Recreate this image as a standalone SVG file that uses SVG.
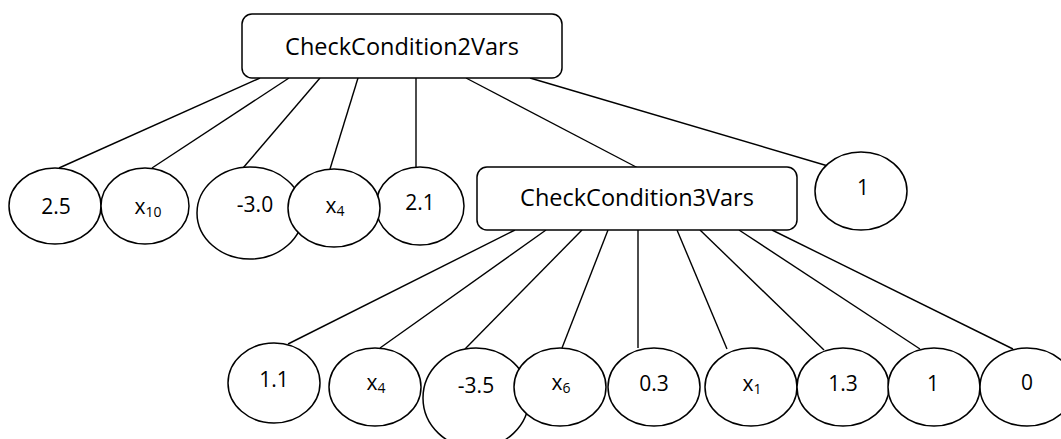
<svg xmlns="http://www.w3.org/2000/svg" width="1061" height="439" viewBox="0 0 1061 439">
  <style>
    .box { fill: #ffffff; stroke: #000000; stroke-width: 1.5; }
    .leaf { fill: #ffffff; stroke: #000000; stroke-width: 1.5; }
    .edge { stroke: #000000; stroke-width: 1.4; fill: none; }
    .title { font-family: "Open Sans", "Noto Sans", sans-serif; font-size: 23.5px; fill: #000000; text-anchor: middle; }
    .val { font-family: "Open Sans", "Noto Sans", sans-serif; font-size: 21px; fill: #000000; text-anchor: middle; }
    .sub { font-size: 14px; }
  </style>
  <rect width="1061" height="439" fill="#ffffff"/>

  <!-- tree edges -->
  <g id="connectors">
    <line class="edge" x1="260" y1="78" x2="59" y2="168"/>
    <line class="edge" x1="289" y1="78" x2="152" y2="168"/>
    <line class="edge" x1="320" y1="78" x2="243" y2="168"/>
    <line class="edge" x1="358" y1="78" x2="330" y2="169"/>
    <line class="edge" x1="416" y1="78" x2="416" y2="167"/>
    <line class="edge" x1="466" y1="78" x2="638" y2="168"/>
    <line class="edge" x1="530" y1="78" x2="828" y2="166"/>

    <line class="edge" x1="515" y1="230" x2="288" y2="344"/>
    <line class="edge" x1="546" y1="230" x2="380" y2="348"/>
    <line class="edge" x1="582" y1="230" x2="465" y2="349"/>
    <line class="edge" x1="608" y1="230" x2="562" y2="348"/>
    <line class="edge" x1="638" y1="230" x2="638" y2="348"/>
    <line class="edge" x1="677" y1="230" x2="727" y2="349"/>
    <line class="edge" x1="700" y1="230" x2="824" y2="350"/>
    <line class="edge" x1="739" y1="230" x2="920" y2="349"/>
    <line class="edge" x1="772" y1="230" x2="1013" y2="349"/>
  </g>

  <!-- root -->
  <g id="check2">
    <rect class="box" x="242" y="14" width="320" height="64" rx="10"/>
    <text class="title" x="402" y="55">CheckCondition2Vars</text>
  </g>

  <!-- children of CheckCondition2Vars -->
  <g id="c2-2_5">
    <ellipse class="leaf" cx="55" cy="206" rx="46" ry="38"/>
    <text class="val" x="56" y="214">2.5</text>
  </g>
  <g id="c2-x10">
    <ellipse class="leaf" cx="145" cy="206" rx="44" ry="38"/>
    <text class="val" x="148" y="214">x<tspan class="sub" dy="3">10</tspan></text>
  </g>
  <g id="c2-neg3_0">
    <ellipse class="leaf" cx="250" cy="213" rx="53" ry="46"/>
    <text class="val" x="255" y="212">-3.0</text>
  </g>
  <g id="c2-2_1">
    <ellipse class="leaf" cx="420" cy="206" rx="44" ry="39"/>
    <text class="val" x="420" y="210">2.1</text>
  </g>
  <g id="c2-x4">
    <ellipse class="leaf" cx="334" cy="208" rx="46" ry="39"/>
    <text class="val" x="335" y="213">x<tspan class="sub" dy="3">4</tspan></text>
  </g>
  <g id="check3">
    <rect class="box" x="477" y="167" width="320" height="63" rx="10"/>
    <text class="title" x="637" y="206">CheckCondition3Vars</text>
  </g>
  <g id="c2-1">
    <ellipse class="leaf" cx="861" cy="191" rx="46" ry="39"/>
    <text class="val" x="863" y="195">1</text>
  </g>

  <!-- children of CheckCondition3Vars -->
  <g id="c3-1_1">
    <ellipse class="leaf" cx="274" cy="383" rx="46" ry="40"/>
    <text class="val" x="274" y="387">1.1</text>
  </g>
  <g id="c3-x4">
    <ellipse class="leaf" cx="375" cy="387" rx="46" ry="39"/>
    <text class="val" x="376" y="390">x<tspan class="sub" dy="3">4</tspan></text>
  </g>
  <g id="c3-neg3_5">
    <ellipse class="leaf" cx="476" cy="398" rx="53" ry="50"/>
    <text class="val" x="476" y="393">-3.5</text>
  </g>
  <g id="c3-x6">
    <ellipse class="leaf" cx="560" cy="387" rx="46" ry="39"/>
    <text class="val" x="561" y="390">x<tspan class="sub" dy="3">6</tspan></text>
  </g>
  <g id="c3-0_3">
    <ellipse class="leaf" cx="654" cy="387" rx="46" ry="39"/>
    <text class="val" x="654" y="391">0.3</text>
  </g>
  <g id="c3-x1">
    <ellipse class="leaf" cx="751" cy="387" rx="46" ry="39"/>
    <text class="val" x="752" y="391">x<tspan class="sub" dy="3">1</tspan></text>
  </g>
  <g id="c3-1_3">
    <ellipse class="leaf" cx="843" cy="387" rx="46" ry="39"/>
    <text class="val" x="843" y="391">1.3</text>
  </g>
  <g id="c3-1">
    <ellipse class="leaf" cx="934" cy="387" rx="46" ry="39"/>
    <text class="val" x="933" y="391">1</text>
  </g>
  <g id="c3-0">
    <ellipse class="leaf" cx="1027" cy="387" rx="47" ry="39"/>
    <text class="val" x="1027" y="390">0</text>
  </g>
</svg>
